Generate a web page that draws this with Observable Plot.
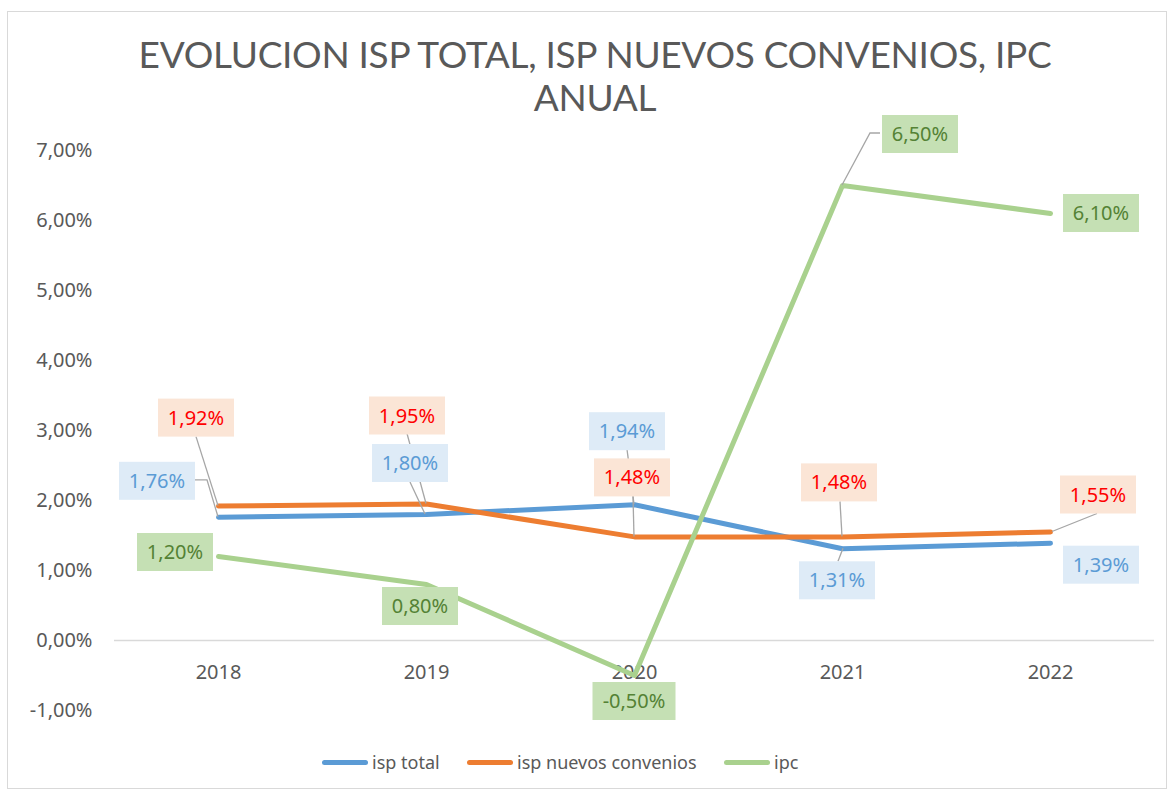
<!DOCTYPE html>
<html><head><meta charset="utf-8">
<script src="https://cdn.jsdelivr.net/npm/d3@7"></script>
<script src="https://cdn.jsdelivr.net/npm/@observablehq/plot@0.6"></script>
<style>
body{margin:0;background:#fff;}
#wrap{position:relative;width:1170px;height:793px;overflow:hidden;font-family:"Noto Sans",sans-serif;}
#frame{position:absolute;left:7px;top:11px;width:1160px;height:778px;border:1px solid #d9d9d9;box-sizing:border-box;}
#title{position:absolute;left:0;width:1190px;top:32px;text-align:center;font-family:"Lato",sans-serif;font-size:37px;line-height:43px;color:#595959;letter-spacing:-0.3px;}
#chart{position:absolute;left:0;top:0;}
#legend{position:absolute;top:749px;left:0;width:1170px;height:26px;font-size:18px;color:#595959;}
.li{position:absolute;top:0;display:flex;align-items:center;height:26px;}
.sw{display:inline-block;width:46px;height:5px;border-radius:3px;margin-right:4px;}
</style></head>
<body>
<div id="wrap">
  <div id="frame"></div>
  <div id="title">EVOLUCION ISP TOTAL, ISP NUEVOS CONVENIOS, IPC<br>ANUAL</div>
  <div id="chart"></div>
  <div id="legend"></div>
</div>
<script>
// ---- data ----
const years = ["2018", "2019", "2020", "2021", "2022"];
const ispTotal = [1.76, 1.80, 1.94, 1.31, 1.39];
const ispNuevos = [1.92, 1.95, 1.48, 1.48, 1.55];
const ipc = [1.20, 0.80, -0.50, 6.50, 6.10];
const yTicks = [-1, 0, 1, 2, 3, 4, 5, 6, 7];
const seriesNames = ["isp total", "isp nuevos convenios", "ipc"];

// ---- styles / layout ----
const lineColors = ["#5b9bd5", "#ed7d31", "#a9d18e"];
const boxFills = ["#deebf7", "#fbe5d6", "#c5e0b4"];
const textColors = ["#5b9bd5", "#ff0000", "#548235"];
// label box centre offsets from the data point (px)
const labelOffsets = [
  [[-61,-36],[-16,-51],[-7,-73],[-5,32],[51,22]],
  [[-22,-88],[-19,-88],[-2,-59],[-3,-54],[48,-37]],
  [[-43,-4],[-6,22],[0,26],[78,-51],[51,0]]
];
// leader lines: [series, index, path points relative to point ("p") or box centre ("b")]
const leaders = [
  [0,0,[["b",38,-1],["b",50,-1],["p",0,0]]],
  [0,1,[["b",0,19],["p",-1,0]]],
  [0,2,[["b",0,18],["p",0,0]]],
  [0,3,[["b",1,-19],["p",1,0]]],
  [1,0,[["b",0,19],["p",0,0]]],
  [1,1,[["b",0,18],["p",0,0]]],
  [1,2,[["b",1,19],["p",0,0]]],
  [1,3,[["b",1,19],["p",0,0]]],
  [1,4,[["b",-1,19],["p",2,0]]],
  [2,3,[["b",-40,-1],["b",-50,-1],["p",0,0]]]
];

const fmt = v => v.toFixed(2).replace(".", ",") + "%";
const seriesVals = [ispTotal, ispNuevos, ipc];
const rows = [];
seriesVals.forEach((vals, s) => vals.forEach((v, i) => rows.push({series: seriesNames[s], s, i, year: years[i], value: v})));

function labels(index, scales, values, dimensions, context) {
  const g = d3.create("svg:g");
  const pt = (s, i) => [scales.x(years[i]), scales.y(seriesVals[s][i])];
  for (const [s, i, pts] of leaders) {
    const [px, py] = pt(s, i);
    const [ox, oy] = labelOffsets[s][i];
    const coords = pts.map(([k, a, b]) => k === "p" ? [px + a, py + b] : [px + ox + a, py + oy + b]);
    g.append("path").attr("d", d3.line()(coords)).attr("fill", "none").attr("stroke", "#a6a6a6").attr("stroke-width", 1.3);
  }
  for (let s = 0; s < 3; s++) {
    for (let i = 0; i < years.length; i++) {
      const [px, py] = pt(s, i);
      const [ox, oy] = labelOffsets[s][i];
      const cx = px + ox, cy = py + oy;
      const w = s === 2 && seriesVals[s][i] < 0 ? 83 : 76, h = 38;
      g.append("rect").attr("x", cx - w / 2).attr("y", cy - h / 2).attr("width", w).attr("height", h).attr("fill", boxFills[s]);
      g.append("text").attr("x", cx).attr("y", cy).attr("dy", "0.35em").attr("text-anchor", "middle")
        .attr("fill", textColors[s]).attr("font-size", 20).attr("font-family", "Noto Sans, sans-serif")
        .text(fmt(seriesVals[s][i]));
    }
  }
  return g.node();
}

const plot = Plot.plot({
  width: 1170,
  height: 793,
  marginLeft: 114,
  marginRight: 16,
  marginTop: 150,
  marginBottom: 83,
  style: {background: "transparent", fontFamily: "Noto Sans, sans-serif", fontSize: "20px", color: "#595959", overflow: "visible"},
  x: {type: "point", domain: years, padding: 0.5, axis: null},
  y: {domain: [-1, 7], axis: null},
  marks: [
    Plot.axisY({ticks: yTicks, tickFormat: fmt, tickSize: 0, tickPadding: 22, fontSize: 20, fill: "#595959", label: null}),
    Plot.ruleY([0], {stroke: "#d9d9d9", strokeWidth: 1.5}),
    Plot.text(years, {x: d => d, y: 0, dy: 32, text: d => d, fill: "#595959", fontSize: 20}),
    ...[0, 1, 2].map(s => Plot.line(rows.filter(r => r.s === s), {
      x: "year", y: "value", stroke: lineColors[s], strokeWidth: 5, strokeLinecap: "round", strokeLinejoin: "round"
    })),
    labels
  ]
});
document.getElementById("chart").appendChild(plot);

// legend
const legendPos = [322, 467, 724];
const legend = document.getElementById("legend");
seriesNames.forEach((n, s) => {
  const d = document.createElement("div");
  d.className = "li";
  d.style.left = legendPos[s] + "px";
  d.innerHTML = `<span class="sw" style="background:${lineColors[s]}"></span><span>${n}</span>`;
  legend.appendChild(d);
});
</script>
</body></html>
